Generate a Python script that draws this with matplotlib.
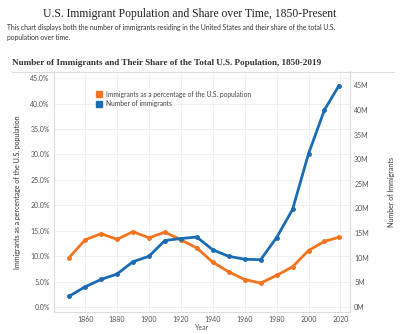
import matplotlib.pyplot as plt
from matplotlib.lines import Line2D
from matplotlib.patches import Patch

years = [1850, 1860, 1870, 1880, 1890, 1900, 1910, 1920, 1930,
         1940, 1950, 1960, 1970, 1980, 1990, 2000, 2010, 2019]
share_pct = [9.7, 13.2, 14.4, 13.3, 14.8, 13.6, 14.7, 13.2, 11.6,
             8.8, 6.9, 5.4, 4.7, 6.2, 7.9, 11.1, 12.9, 13.7]
immigrants_m = [2.2, 4.1, 5.6, 6.7, 9.2, 10.3, 13.5, 13.9, 14.2,
                11.6, 10.3, 9.7, 9.6, 14.1, 19.8, 31.1, 40.0, 44.9]

year_ticks = list(range(1860, 2021, 20))
pct_ticks = [0, 5, 10, 15, 20, 25, 30, 35, 40, 45]
num_ticks = [0, 5, 10, 15, 20, 25, 30, 35, 40, 45]

orange = '#f4731f'
blue = '#1b6cb3'
grid_c = '#eeeeee'
tick_c = '#555555'
sans = ['Lato', 'DejaVu Sans']
serif = ['Liberation Serif', 'DejaVu Serif']

fig = plt.figure(figsize=(4.0, 3.34), dpi=100)

# page header
fig.text(0.475, 0.958, "U.S. Immigrant Population and Share over Time, 1850-Present",
         ha='center', va='center', fontsize=8.4, family=serif, color='#222222')
fig.text(0.018, 0.918, "This chart displays both the number of immigrants residing in the United States and their share of the total U.S.",
         ha='left', va='center', fontsize=4.9, family=sans, color='#333333')
fig.text(0.018, 0.888, "population over time.",
         ha='left', va='center', fontsize=4.9, family=sans, color='#333333')
fig.text(0.03, 0.812, "Number of Immigrants and Their Share of the Total U.S. Population, 1850-2019",
         ha='left', va='center', fontsize=6.6, family=serif, weight='bold', color='#333333')
fig.add_artist(Line2D([0.03, 0.985], [0.785, 0.785], color='#dddddd', lw=0.8))

ax = fig.add_axes([0.135, 0.066, 0.74, 0.72])
ax2 = ax.twinx()

ax.set_xlim(1840.5, 2026)
ax.set_ylim(-0.98, 46.3)
ax2.set_ylim(-1.0, 47.8)

ax.set_xticks(year_ticks)
ax.set_yticks(pct_ticks)
ax.set_yticklabels([f"{v:.1f}%" for v in pct_ticks])
ax2.set_yticks(num_ticks)
ax2.set_yticklabels([f"{v}M" for v in num_ticks])

ax.grid(True, color=grid_c, lw=0.6)
ax.set_axisbelow(True)

for a in (ax, ax2):
    for s in a.spines.values():
        s.set_visible(False)
    a.tick_params(length=0, labelsize=5, labelcolor=tick_c, pad=3)
    for lab in a.get_xticklabels() + a.get_yticklabels():
        lab.set_family(sans)
ax.spines['left'].set_visible(True)
ax.spines['left'].set_color('#dddddd')
ax.spines['bottom'].set_visible(True)
ax.spines['bottom'].set_color('#dddddd')
ax2.spines['right'].set_visible(True)
ax2.spines['right'].set_color('#dddddd')

ax.plot(years, share_pct, color=orange, lw=2, marker='o', ms=2.5, zorder=3)
ax2.plot(years, immigrants_m, color=blue, lw=2, marker='o', ms=2.5, zorder=3)

ax.set_xlabel("Year", fontsize=5, family=sans, color=tick_c)
ax.xaxis.set_label_coords(0.5, -0.05)
ax.set_ylabel("Immigrants as a percentage of the U.S. population", fontsize=5,
              family=sans, color='#333333')
ax.yaxis.set_label_coords(-0.11, 0.5)
ax2.set_ylabel("Number of Immigrants", fontsize=5, family=sans,
               color='#333333')
ax2.yaxis.set_label_coords(1.13, 0.5)

handles = [Patch(color=orange), Patch(color=blue)]
leg = ax.legend(handles, ["Immigrants as a percentage of the U.S. population",
                          "Number of immigrants"],
                loc='upper left', bbox_to_anchor=(0.12, 0.945), frameon=False,
                prop={'family': sans, 'size': 4.8}, handlelength=1.0,
                handleheight=1.0, handletextpad=0.5, labelspacing=0.4)
for t in leg.get_texts():
    t.set_color('#444444')

fig.savefig('out.png', dpi=100, facecolor='white')
